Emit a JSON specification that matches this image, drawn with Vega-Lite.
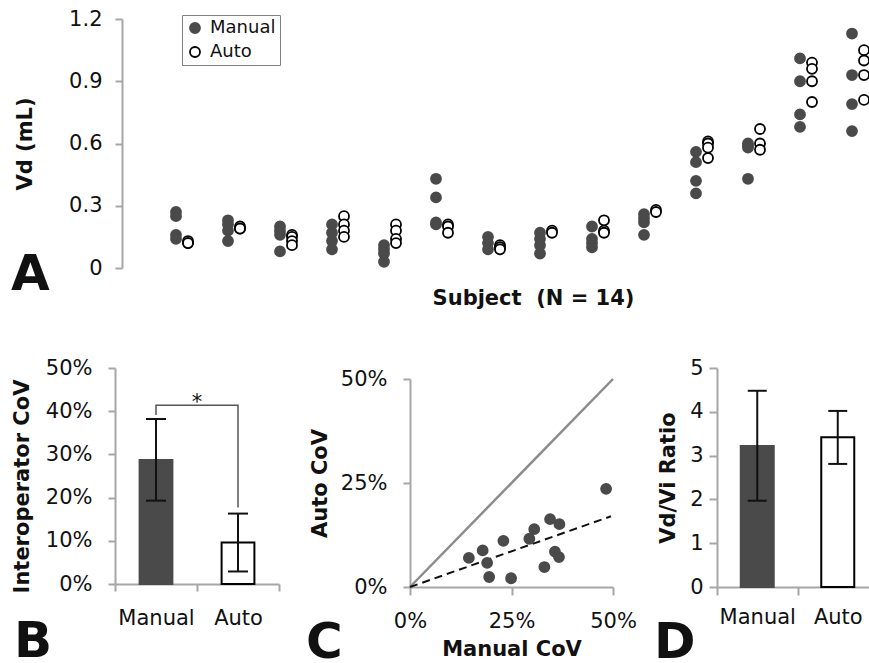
{
  "$schema": "https://vega.github.io/schema/vega-lite/v6.json",
  "padding": {"left": 11, "top": 8, "right": 0, "bottom": 0},
  "background": "white",
  "config": {
    "font": "DejaVu Sans",
    "view": {"stroke": null},
    "axis": {"grid": false, "domainColor": "#a6a6a6", "tickColor": "#a6a6a6", "domainWidth": 2, "tickWidth": 2, "labelFontSize": 21, "labelColor": "#111111", "titleFontSize": 21, "titleFontWeight": "bold", "titleColor": "#111111", "labelFlush": false},
    "title": {"fontSize": 50, "fontWeight": "bold", "color": "#111111", "orient": "bottom", "anchor": "start", "frame": "group", "baseline": "alphabetic"}
  },
  "datasets": {
    "vd": [
      {"Subject": 1, "Method": "Manual", "Vd": 0.27}, {"Subject": 1, "Method": "Manual", "Vd": 0.25}, {"Subject": 1, "Method": "Manual", "Vd": 0.16}, {"Subject": 1, "Method": "Manual", "Vd": 0.14},
      {"Subject": 2, "Method": "Manual", "Vd": 0.23}, {"Subject": 2, "Method": "Manual", "Vd": 0.21}, {"Subject": 2, "Method": "Manual", "Vd": 0.18}, {"Subject": 2, "Method": "Manual", "Vd": 0.13},
      {"Subject": 3, "Method": "Manual", "Vd": 0.2}, {"Subject": 3, "Method": "Manual", "Vd": 0.18}, {"Subject": 3, "Method": "Manual", "Vd": 0.16}, {"Subject": 3, "Method": "Manual", "Vd": 0.08},
      {"Subject": 4, "Method": "Manual", "Vd": 0.21}, {"Subject": 4, "Method": "Manual", "Vd": 0.17}, {"Subject": 4, "Method": "Manual", "Vd": 0.13}, {"Subject": 4, "Method": "Manual", "Vd": 0.09},
      {"Subject": 5, "Method": "Manual", "Vd": 0.11}, {"Subject": 5, "Method": "Manual", "Vd": 0.09}, {"Subject": 5, "Method": "Manual", "Vd": 0.07}, {"Subject": 5, "Method": "Manual", "Vd": 0.03},
      {"Subject": 6, "Method": "Manual", "Vd": 0.43}, {"Subject": 6, "Method": "Manual", "Vd": 0.34}, {"Subject": 6, "Method": "Manual", "Vd": 0.22}, {"Subject": 6, "Method": "Manual", "Vd": 0.21},
      {"Subject": 7, "Method": "Manual", "Vd": 0.15}, {"Subject": 7, "Method": "Manual", "Vd": 0.12}, {"Subject": 7, "Method": "Manual", "Vd": 0.09},
      {"Subject": 8, "Method": "Manual", "Vd": 0.17}, {"Subject": 8, "Method": "Manual", "Vd": 0.14}, {"Subject": 8, "Method": "Manual", "Vd": 0.11}, {"Subject": 8, "Method": "Manual", "Vd": 0.07},
      {"Subject": 9, "Method": "Manual", "Vd": 0.2}, {"Subject": 9, "Method": "Manual", "Vd": 0.14}, {"Subject": 9, "Method": "Manual", "Vd": 0.12}, {"Subject": 9, "Method": "Manual", "Vd": 0.1},
      {"Subject": 10, "Method": "Manual", "Vd": 0.26}, {"Subject": 10, "Method": "Manual", "Vd": 0.24}, {"Subject": 10, "Method": "Manual", "Vd": 0.22}, {"Subject": 10, "Method": "Manual", "Vd": 0.16},
      {"Subject": 11, "Method": "Manual", "Vd": 0.56}, {"Subject": 11, "Method": "Manual", "Vd": 0.51}, {"Subject": 11, "Method": "Manual", "Vd": 0.42}, {"Subject": 11, "Method": "Manual", "Vd": 0.36},
      {"Subject": 12, "Method": "Manual", "Vd": 0.6}, {"Subject": 12, "Method": "Manual", "Vd": 0.59}, {"Subject": 12, "Method": "Manual", "Vd": 0.58}, {"Subject": 12, "Method": "Manual", "Vd": 0.43},
      {"Subject": 13, "Method": "Manual", "Vd": 1.01}, {"Subject": 13, "Method": "Manual", "Vd": 0.9}, {"Subject": 13, "Method": "Manual", "Vd": 0.74}, {"Subject": 13, "Method": "Manual", "Vd": 0.68},
      {"Subject": 14, "Method": "Manual", "Vd": 1.13}, {"Subject": 14, "Method": "Manual", "Vd": 0.93}, {"Subject": 14, "Method": "Manual", "Vd": 0.79}, {"Subject": 14, "Method": "Manual", "Vd": 0.66},
      {"Subject": 1, "Method": "Auto", "Vd": 0.13}, {"Subject": 1, "Method": "Auto", "Vd": 0.12}, {"Subject": 1, "Method": "Auto", "Vd": 0.12},
      {"Subject": 2, "Method": "Auto", "Vd": 0.2}, {"Subject": 2, "Method": "Auto", "Vd": 0.19}, {"Subject": 2, "Method": "Auto", "Vd": 0.19},
      {"Subject": 3, "Method": "Auto", "Vd": 0.16}, {"Subject": 3, "Method": "Auto", "Vd": 0.15}, {"Subject": 3, "Method": "Auto", "Vd": 0.13}, {"Subject": 3, "Method": "Auto", "Vd": 0.11},
      {"Subject": 4, "Method": "Auto", "Vd": 0.25}, {"Subject": 4, "Method": "Auto", "Vd": 0.21}, {"Subject": 4, "Method": "Auto", "Vd": 0.18}, {"Subject": 4, "Method": "Auto", "Vd": 0.15},
      {"Subject": 5, "Method": "Auto", "Vd": 0.21}, {"Subject": 5, "Method": "Auto", "Vd": 0.18}, {"Subject": 5, "Method": "Auto", "Vd": 0.14}, {"Subject": 5, "Method": "Auto", "Vd": 0.12},
      {"Subject": 6, "Method": "Auto", "Vd": 0.21}, {"Subject": 6, "Method": "Auto", "Vd": 0.2}, {"Subject": 6, "Method": "Auto", "Vd": 0.17},
      {"Subject": 7, "Method": "Auto", "Vd": 0.11}, {"Subject": 7, "Method": "Auto", "Vd": 0.1}, {"Subject": 7, "Method": "Auto", "Vd": 0.09},
      {"Subject": 8, "Method": "Auto", "Vd": 0.18}, {"Subject": 8, "Method": "Auto", "Vd": 0.17},
      {"Subject": 9, "Method": "Auto", "Vd": 0.23}, {"Subject": 9, "Method": "Auto", "Vd": 0.18}, {"Subject": 9, "Method": "Auto", "Vd": 0.17},
      {"Subject": 10, "Method": "Auto", "Vd": 0.28}, {"Subject": 10, "Method": "Auto", "Vd": 0.27},
      {"Subject": 11, "Method": "Auto", "Vd": 0.61}, {"Subject": 11, "Method": "Auto", "Vd": 0.6}, {"Subject": 11, "Method": "Auto", "Vd": 0.58}, {"Subject": 11, "Method": "Auto", "Vd": 0.53},
      {"Subject": 12, "Method": "Auto", "Vd": 0.67}, {"Subject": 12, "Method": "Auto", "Vd": 0.6}, {"Subject": 12, "Method": "Auto", "Vd": 0.57},
      {"Subject": 13, "Method": "Auto", "Vd": 0.99}, {"Subject": 13, "Method": "Auto", "Vd": 0.96}, {"Subject": 13, "Method": "Auto", "Vd": 0.9}, {"Subject": 13, "Method": "Auto", "Vd": 0.8},
      {"Subject": 14, "Method": "Auto", "Vd": 1.05}, {"Subject": 14, "Method": "Auto", "Vd": 1.0}, {"Subject": 14, "Method": "Auto", "Vd": 0.93}, {"Subject": 14, "Method": "Auto", "Vd": 0.81}
    ],
    "cov": [
      {"Method": "Manual", "value": 0.287, "lo": 0.193, "hi": 0.382},
      {"Method": "Auto", "value": 0.096, "lo": 0.029, "hi": 0.163}
    ],
    "bracket": [
      {"Method": "Manual", "v": 0.391, "o": 1},
      {"Method": "Manual", "v": 0.414, "o": 2},
      {"Method": "Auto", "v": 0.414, "o": 3},
      {"Method": "Auto", "v": 0.177, "o": 4}
    ],
    "star": [{"Method": "Auto", "v": 0.404, "t": "*"}],
    "identity": [{"mx": 0, "ay": 0}, {"mx": 0.5, "ay": 0.5}],
    "fit": [{"mx": 0, "ay": 0}, {"mx": 0.495, "ay": 0.17}],
    "pts": [
      {"mx": 0.145, "ay": 0.07}, {"mx": 0.179, "ay": 0.088}, {"mx": 0.19, "ay": 0.058}, {"mx": 0.195, "ay": 0.024},
      {"mx": 0.23, "ay": 0.111}, {"mx": 0.249, "ay": 0.021}, {"mx": 0.294, "ay": 0.116}, {"mx": 0.306, "ay": 0.139},
      {"mx": 0.331, "ay": 0.048}, {"mx": 0.345, "ay": 0.163}, {"mx": 0.357, "ay": 0.085}, {"mx": 0.368, "ay": 0.151},
      {"mx": 0.367, "ay": 0.072}, {"mx": 0.483, "ay": 0.236}
    ],
    "ratio": [
      {"Method": "Manual", "value": 3.22, "lo": 1.97, "hi": 4.48},
      {"Method": "Auto", "value": 3.42, "lo": 2.81, "hi": 4.02}
    ]
  },
  "bounds": "flush",
  "spacing": 100,
  "vconcat": [
    {
      "width": 754,
      "height": 249,
      "title": {"text": "A", "dx": -104, "dy": -62},
      "data": {"name": "vd"},
      "encoding": {
        "x": {"field": "Subject", "type": "quantitative", "scale": {"domain": [-0.2885, 14.2115], "nice": false, "zero": false},
          "axis": {"domain": false, "ticks": false, "labels": false, "title": "Subject \u00a0(N = 14)", "titleX": 418, "titleY": 19}},
        "y": {"field": "Vd", "type": "quantitative", "scale": {"domain": [0, 1.2], "nice": false},
          "axis": {"title": "Vd (mL)", "values": [0, 0.3, 0.6, 0.9, 1.2], "labelExpr": "datum.value == 0 ? '0' : format(datum.value, '.1f')", "tickSize": 7, "labelPadding": 13, "titlePadding": 33, "offset": -7}},
        "fill": {"field": "Method", "type": "nominal", "scale": {"domain": ["Manual", "Auto"], "range": ["#4a4a4a", "#ffffff"]},
          "legend": {"title": null, "orient": "none", "legendX": 67, "legendY": -4, "strokeColor": "#808080", "fillColor": "white", "padding": 4, "labelFontSize": 18, "labelColor": "#111111", "symbolSize": 100, "symbolStrokeWidth": 1.8, "symbolType": "circle", "rowPadding": 6, "labelOffset": 6}},
        "stroke": {"field": "Method", "type": "nominal", "scale": {"domain": ["Manual", "Auto"], "range": ["#4a4a4a", "#000000"]},
          "legend": {"title": null, "orient": "none", "legendX": 67, "legendY": -4, "strokeColor": "#808080", "fillColor": "white", "padding": 4, "labelFontSize": 18, "labelColor": "#111111", "symbolSize": 100, "symbolStrokeWidth": 1.8, "symbolType": "circle", "rowPadding": 6, "labelOffset": 6}}
      },
      "layer": [
        {"transform": [{"filter": "datum.Method == 'Manual'"}], "mark": {"type": "circle", "xOffset": -6, "size": 100, "opacity": 1, "strokeWidth": 1.8}},
        {"transform": [{"filter": "datum.Method == 'Auto'"}], "mark": {"type": "circle", "xOffset": 6, "size": 100, "opacity": 1, "strokeWidth": 1.8}}
      ]
    },
    {
      "bounds": "flush",
      "spacing": 131,
      "hconcat": [
        {
          "width": 164,
          "height": 216,
          "title": {"text": "B", "dx": -101, "dy": -15},
          "layer": [
            {
              "data": {"name": "cov"},
              "mark": {"type": "bar", "width": {"band": 0.4}, "strokeWidth": 2, "opacity": 1},
              "encoding": {
                "x": {"field": "Method", "type": "nominal", "scale": {"domain": ["Manual", "Auto"], "paddingInner": 0, "paddingOuter": 0},
                  "axis": {"title": null, "labelAngle": 0, "tickBand": "extent", "tickSize": 7, "labelPadding": 16}},
                "y": {"field": "value", "type": "quantitative", "scale": {"domain": [0, 0.5], "nice": false},
                  "axis": {"title": "Interoperator CoV", "values": [0, 0.1, 0.2, 0.3, 0.4, 0.5], "format": ".0%", "tickSize": 7, "labelPadding": 16, "titlePadding": 13, "titleY": 118}},
                "fill": {"field": "Method", "type": "nominal", "scale": {"domain": ["Manual", "Auto"], "range": ["#4a4a4a", "#ffffff"]}, "legend": null},
                "stroke": {"field": "Method", "type": "nominal", "scale": {"domain": ["Manual", "Auto"], "range": ["#4a4a4a", "#000000"]}, "legend": null}
              }
            },
            {
              "data": {"name": "cov"},
              "mark": {"type": "rule", "strokeWidth": 2, "color": "#111111"},
              "encoding": {"x": {"field": "Method", "type": "nominal"}, "y": {"field": "lo", "type": "quantitative"}, "y2": {"field": "hi"}}
            },
            {
              "data": {"name": "cov"},
              "mark": {"type": "tick", "thickness": 2, "size": 20, "color": "#111111", "opacity": 1},
              "encoding": {"x": {"field": "Method", "type": "nominal"}, "y": {"field": "lo", "type": "quantitative"}}
            },
            {
              "data": {"name": "cov"},
              "mark": {"type": "tick", "thickness": 2, "size": 20, "color": "#111111", "opacity": 1},
              "encoding": {"x": {"field": "Method", "type": "nominal"}, "y": {"field": "hi", "type": "quantitative"}}
            },
            {
              "data": {"name": "bracket"},
              "mark": {"type": "line", "strokeWidth": 1.5, "color": "#555555"},
              "encoding": {"x": {"field": "Method", "type": "nominal"}, "y": {"field": "v", "type": "quantitative"}, "order": {"field": "o"}}
            },
            {
              "data": {"name": "star"},
              "mark": {"type": "text", "fontSize": 21, "baseline": "alphabetic", "align": "center", "color": "#111111"},
              "encoding": {"x": {"field": "Method", "type": "nominal", "bandPosition": 0}, "y": {"field": "v", "type": "quantitative"}, "text": {"field": "t"}}
            }
          ]
        },
        {
          "bounds": "flush",
          "spacing": 104,
          "hconcat": [
            {
              "width": 203,
              "height": 219,
              "title": {"text": "C", "dx": -104, "dy": -45},
              "encoding": {
                "x": {"field": "mx", "type": "quantitative", "scale": {"domain": [0, 0.5], "nice": false},
                  "axis": {"title": "Manual CoV", "values": [0, 0.25, 0.5], "format": ".0%", "tickSize": 8, "labelPadding": 15, "titlePadding": 7, "labelFlush": false}},
                "y": {"field": "ay", "type": "quantitative", "scale": {"domain": [0, 0.5], "nice": false, "range": [219, 11]},
                  "axis": {"title": "Auto CoV", "values": [0, 0.25, 0.5], "format": ".0%", "tickSize": 7, "labelPadding": 16, "titlePadding": 10}}
              },
              "layer": [
                {"data": {"name": "identity"}, "mark": {"type": "line", "color": "#8c8c8c", "strokeWidth": 2.5}},
                {"data": {"name": "fit"}, "mark": {"type": "line", "color": "#111111", "strokeWidth": 2, "strokeDash": [8, 5]}},
                {"data": {"name": "pts"}, "mark": {"type": "circle", "size": 100, "opacity": 1, "color": "#4a4a4a", "stroke": "#4a4a4a", "strokeWidth": 1.8}}
              ]
            },
            {
              "width": 161,
              "height": 219,
              "title": {"text": "D", "dx": -63, "dy": -13},
              "layer": [
                {
                  "data": {"name": "ratio"},
                  "mark": {"type": "bar", "width": {"band": 0.41}, "strokeWidth": 2, "opacity": 1},
                  "encoding": {
                    "x": {"field": "Method", "type": "nominal", "scale": {"domain": ["Manual", "Auto"], "paddingInner": 0, "paddingOuter": 0},
                      "axis": {"title": null, "labelAngle": 0, "tickBand": "extent", "tickSize": 8, "labelPadding": 11}},
                    "y": {"field": "value", "type": "quantitative", "scale": {"domain": [0, 5], "nice": false},
                      "axis": {"title": "Vd/Vi Ratio", "values": [0, 1, 2, 3, 4, 5], "tickSize": 8, "labelPadding": 6, "titlePadding": 11}},
                    "fill": {"field": "Method", "type": "nominal", "scale": {"domain": ["Manual", "Auto"], "range": ["#4a4a4a", "#ffffff"]}, "legend": null},
                    "stroke": {"field": "Method", "type": "nominal", "scale": {"domain": ["Manual", "Auto"], "range": ["#4a4a4a", "#000000"]}, "legend": null}
                  }
                },
                {
                  "data": {"name": "ratio"},
                  "mark": {"type": "rule", "strokeWidth": 2, "color": "#111111"},
                  "encoding": {"x": {"field": "Method", "type": "nominal"}, "y": {"field": "lo", "type": "quantitative"}, "y2": {"field": "hi"}}
                },
                {
                  "data": {"name": "ratio"},
                  "mark": {"type": "tick", "thickness": 2, "size": 19, "color": "#111111", "opacity": 1},
                  "encoding": {"x": {"field": "Method", "type": "nominal"}, "y": {"field": "lo", "type": "quantitative"}}
                },
                {
                  "data": {"name": "ratio"},
                  "mark": {"type": "tick", "thickness": 2, "size": 19, "color": "#111111", "opacity": 1},
                  "encoding": {"x": {"field": "Method", "type": "nominal"}, "y": {"field": "hi", "type": "quantitative"}}
                }
              ]
            }
          ]
        }
      ]
    }
  ]
}
